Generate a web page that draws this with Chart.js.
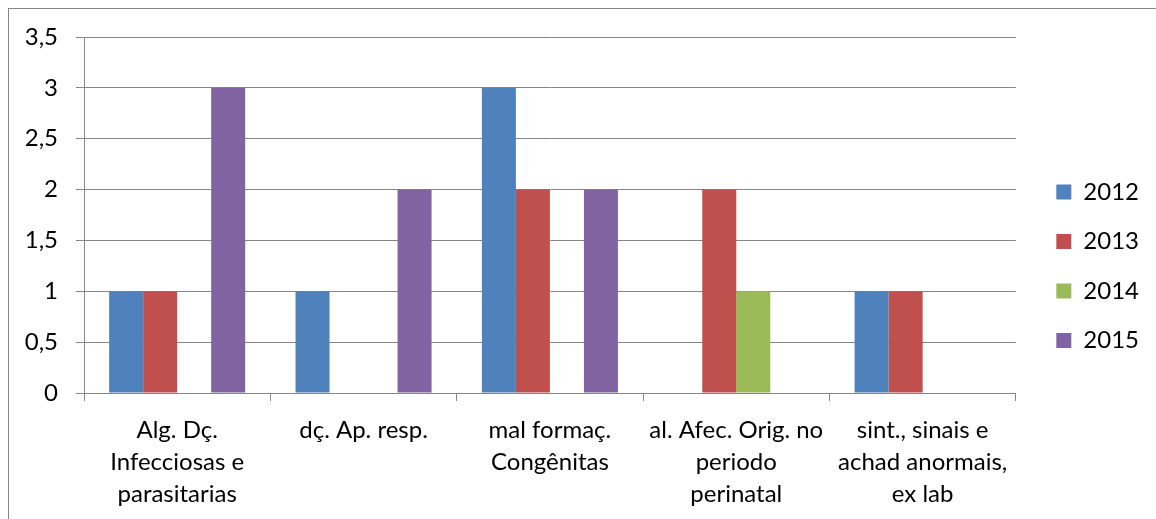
<!DOCTYPE html>
<html>
<head>
<meta charset="utf-8">
<script src="https://cdn.jsdelivr.net/npm/chart.js@4"></script>
<style>
  html, body { margin: 0; padding: 0; background: #fff; overflow: hidden; }
  #wrap { position: relative; width: 1156px; height: 519px; }
  #frame { position: absolute; left: 8px; top: 8px; width: 2000px; height: 2000px;
           border-left: 1px solid #868686; border-top: 1px solid #868686; }
  #myChart { position: absolute; left: 0; top: 0; }
</style>
</head>
<body>
<div id="wrap">
  <div id="frame"></div>
  <canvas id="myChart" width="1156" height="519"></canvas>
</div>
<script>
// categorias (cada linha do rótulo separada)
const categorias = [
    ['Alg. Dç.', 'Infecciosas e', 'parasitarias'],
    ['dç. Ap. resp.'],
    ['mal formaç.', 'Congênitas'],
    ['al. Afec. Orig. no', 'periodo', 'perinatal'],
    ['sint., sinais e', 'achad anormais,', 'ex lab']
];
const anos = ['2012', '2013', '2014', '2015'];
const v2012 = [1, 1, 3, 0, 1];
const v2013 = [1, 0, 2, 2, 1];
const v2014 = [0, 0, 0, 1, 0];
const v2015 = [3, 2, 2, 0, 0];
const yTicks = [0, 0.5, 1, 1.5, 2, 2.5, 3, 3.5];

const cores = ['#4F81BD', '#C0504D', '#9BBB59', '#8064A2'];
const grade = '#868686';
const fonte = { family: 'Lato', size: 24 };

const ctx = document.getElementById('myChart').getContext('2d');

const myChart = new Chart(ctx, {
    type: 'bar',
    data: {
        labels: categorias,
        datasets: [v2012, v2013, v2014, v2015].map((d, i) => ({
            label: anos[i],
            data: d,
            backgroundColor: cores[i],
            borderWidth: 0
        }))
    },
    options: {
        responsive: false,
        animation: false,
        datasets: { bar: { categoryPercentage: 0.73, barPercentage: 1 } },
        layout: { padding: { left: 22, top: 22.5, right: 7, bottom: 9 } },
        plugins: {
            legend: {
                position: 'right',
                labels: { boxWidth: 15, boxHeight: 15, padding: 25.5, color: '#000', font: fonte }
            },
            tooltip: { enabled: false }
        },
        scales: {
            x: {
                grid: { offset: true, drawOnChartArea: false, drawTicks: true, tickLength: 8, color: grade },
                border: { color: grade },
                ticks: { color: '#000', font: { family: 'Lato', size: 24, lineHeight: 1.333 }, padding: 13, maxRotation: 0, autoSkip: false },
                // altura fixa e sem margem extra dos rótulos
                afterFit: (s) => { s.height = 117; s.paddingLeft = 0; s.paddingRight = 0; }
            },
            y: {
                min: 0,
                max: 3.5,
                afterBuildTicks: (s) => { s.ticks = yTicks.map(v => ({ value: v })); },
                grid: { color: grade, tickLength: 8 },
                border: { color: grade },
                ticks: {
                    color: '#000', font: fonte, padding: 18,
                    callback: (v) => String(v).replace('.', ',')
                },
                afterFit: (s) => { s.width = 62; s.paddingTop = 37; s.paddingBottom = 0; }
            },
            // eixo vazio só para dar espaço entre a área e a legenda
            yR: {
                position: 'right',
                display: true,
                grid: { display: false },
                border: { display: false },
                ticks: { display: false },
                afterFit: (s) => { s.width = 15; }
            }
        }
    }
});
</script>
</body>
</html>
